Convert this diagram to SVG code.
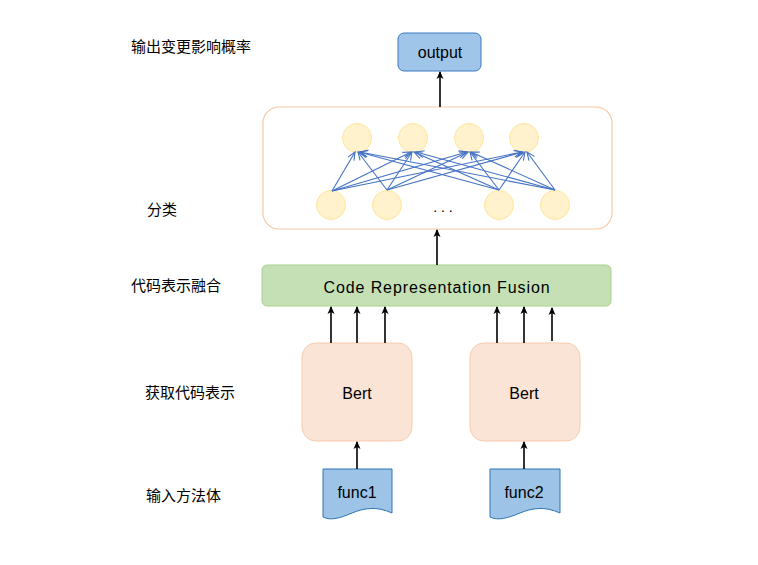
<svg xmlns="http://www.w3.org/2000/svg" width="758" height="565" viewBox="0 0 758 565">
<defs>
<style>
.lbl{font-family:"Noto Sans CJK SC","Liberation Sans",sans-serif;font-size:15px;fill:#000}
.t{font-family:"Liberation Sans","Noto Sans",sans-serif;font-size:16px;fill:#000;text-anchor:middle;dominant-baseline:central}
.blk{stroke:#000;stroke-width:1.6;fill:none}
.nn{stroke:#4472C4;stroke-width:1.1;fill:none}
.circ{fill:#FFF2CC;stroke:#FFE599;stroke-width:1}
</style>
<marker id="ab" markerWidth="8" markerHeight="8" refX="7" refY="4" orient="auto" markerUnits="userSpaceOnUse">
<path d="M0,0.5 L8,4 L0,7.5 L2,4 Z" fill="#000"/>
</marker>
<marker id="ao" markerWidth="10" markerHeight="10" refX="9" refY="5" orient="auto" markerUnits="userSpaceOnUse">
<path d="M1,1.5 L9,5 L1,8.5" fill="none" stroke="#4472C4" stroke-width="1.1"/>
</marker>
</defs>
<rect width="758" height="565" fill="#fff"/>

<g id="labels">
<text class="lbl" x="131" y="52">输出变更影响概率</text>
<text class="lbl" x="147" y="215">分类</text>
<text class="lbl" x="131" y="291">代码表示融合</text>
<text class="lbl" x="145" y="398">获取代码表示</text>
<text class="lbl" x="146" y="501">输入方法体</text>
</g>

<g id="output">
<rect x="398" y="33" width="83" height="38" rx="6" fill="#9FC5E8" stroke="#3D7BC1" stroke-width="1"/>
<text class="t" x="440" y="52" font-size="16.5">output</text>
</g>

<g id="classifier">
<rect x="263" y="107" width="349" height="122" rx="16" fill="#fff" stroke="#F8C8A4" stroke-width="1.2"/>
<circle class="circ" cx="357" cy="138" r="14.5"/>
<circle class="circ" cx="413" cy="138" r="14.5"/>
<circle class="circ" cx="469" cy="138" r="14.5"/>
<circle class="circ" cx="524" cy="138" r="14.5"/>
<circle class="circ" cx="331" cy="205" r="14.5"/>
<circle class="circ" cx="387" cy="205" r="14.5"/>
<circle class="circ" cx="499" cy="205" r="14.5"/>
<circle class="circ" cx="555" cy="205" r="14.5"/>
<text x="443" y="212" font-family="Liberation Sans, sans-serif" font-size="14" text-anchor="middle">. . .</text>
</g>

<g id="fusion">
<rect x="262" y="265" width="349" height="41" rx="5" fill="#C5E0B4" stroke="#A9D18E" stroke-width="1"/>
<text class="t" x="437" y="287" font-size="17" letter-spacing="0.9">Code Representation Fusion</text>
</g>

<g id="bert1">
<rect x="302" y="343" width="110" height="98" rx="14" fill="#FAE4D6" stroke="#F8CBAD" stroke-width="1"/>
<text class="t" x="357" y="393">Bert</text>
</g>
<g id="bert2">
<rect x="470" y="343" width="110" height="98" rx="14" fill="#FAE4D6" stroke="#F8CBAD" stroke-width="1"/>
<text class="t" x="524" y="393">Bert</text>
</g>

<g id="func1">
<path d="M323,469 H392 V513 C377,506 364,508 352,513 C340,518 331,521 323,517 Z" fill="#9DC3E6" stroke="#2E75B6" stroke-width="1"/>
<text class="t" x="357" y="492">func1</text>
</g>
<g id="func2">
<path d="M490,469 H560 V513 C545,506 532,508 520,513 C508,518 498,521 490,517 Z" fill="#9DC3E6" stroke="#2E75B6" stroke-width="1"/>
<text class="t" x="524" y="492">func2</text>
</g>

<g id="connectors">
<line class="blk" x1="440" y1="107" x2="440" y2="72" marker-end="url(#ab)"/>
<line class="blk" x1="437" y1="265" x2="437" y2="230" marker-end="url(#ab)"/>
<line class="blk" x1="331" y1="343" x2="331" y2="307" marker-end="url(#ab)"/>
<line class="blk" x1="357" y1="343" x2="357" y2="307" marker-end="url(#ab)"/>
<line class="blk" x1="385" y1="343" x2="385" y2="307" marker-end="url(#ab)"/>
<line class="blk" x1="497" y1="343" x2="497" y2="307" marker-end="url(#ab)"/>
<line class="blk" x1="524" y1="343" x2="524" y2="307" marker-end="url(#ab)"/>
<line class="blk" x1="552" y1="341" x2="552" y2="308" marker-end="url(#ab)"/>
<line class="blk" x1="357" y1="469" x2="357" y2="442" marker-end="url(#ab)"/>
<line class="blk" x1="524" y1="469" x2="524" y2="442" marker-end="url(#ab)"/>

<line class="nn" x1="332" y1="191" x2="355" y2="152" marker-end="url(#ao)"/>
<line class="nn" x1="332" y1="191" x2="411" y2="152" marker-end="url(#ao)"/>
<line class="nn" x1="332" y1="191" x2="467" y2="152" marker-end="url(#ao)"/>
<line class="nn" x1="332" y1="191" x2="522" y2="152" marker-end="url(#ao)"/>
<line class="nn" x1="387" y1="190" x2="358" y2="152" marker-end="url(#ao)"/>
<line class="nn" x1="387" y1="190" x2="412" y2="152" marker-end="url(#ao)"/>
<line class="nn" x1="387" y1="190" x2="468" y2="152" marker-end="url(#ao)"/>
<line class="nn" x1="387" y1="190" x2="523" y2="152" marker-end="url(#ao)"/>
<line class="nn" x1="499" y1="190" x2="359" y2="152" marker-end="url(#ao)"/>
<line class="nn" x1="499" y1="190" x2="414" y2="152" marker-end="url(#ao)"/>
<line class="nn" x1="499" y1="190" x2="470" y2="152" marker-end="url(#ao)"/>
<line class="nn" x1="499" y1="190" x2="525" y2="152" marker-end="url(#ao)"/>
<line class="nn" x1="555" y1="190" x2="360" y2="152" marker-end="url(#ao)"/>
<line class="nn" x1="555" y1="190" x2="416" y2="152" marker-end="url(#ao)"/>
<line class="nn" x1="555" y1="190" x2="471" y2="152" marker-end="url(#ao)"/>
<line class="nn" x1="555" y1="190" x2="527" y2="152" marker-end="url(#ao)"/>
</g>
</svg>
